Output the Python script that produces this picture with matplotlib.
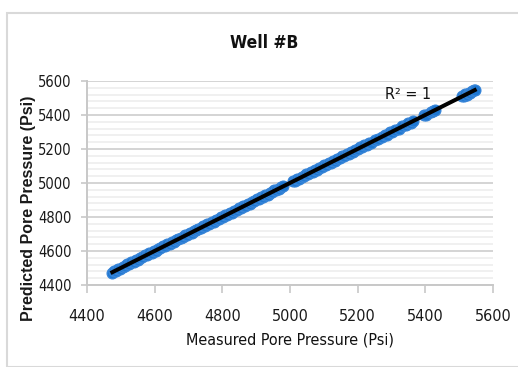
import numpy as np
import matplotlib
matplotlib.use("Agg")
import matplotlib.pyplot as plt
from matplotlib import font_manager
from matplotlib.patches import Rectangle
from matplotlib.ticker import MultipleLocator

# measured vs predicted pore pressure (psi)
measured = [
    4475, 4479, 4486, 4492, 4499, 4505, 4512, 4518, 4525, 4531, 4538, 4545, 4551,
    4558, 4564, 4571, 4578, 4584, 4591, 4597, 4604, 4611, 4617, 4624, 4630, 4637,
    4644, 4650, 4657, 4663, 4670, 4677, 4683, 4690, 4696, 4703, 4710, 4716, 4723,
    4729, 4736, 4743, 4749, 4756, 4762, 4769, 4776, 4782, 4789, 4795, 4802, 4809,
    4815, 4822, 4828, 4835, 4842, 4848, 4855, 4861, 4868, 4875, 4881, 4888, 4894,
    4901, 4908, 4914, 4921, 4927, 4934, 4941, 4947, 4954, 4960, 4967, 4974, 4980,
    5008, 5014, 5021, 5028, 5034, 5041, 5047, 5054, 5061, 5067, 5074, 5081, 5087,
    5094, 5100, 5107, 5114, 5120, 5127, 5134, 5140, 5147, 5153, 5160, 5167, 5173,
    5180, 5187, 5193, 5200, 5207, 5213, 5220, 5227, 5233, 5240, 5252, 5260, 5271,
    5280, 5288, 5296, 5302, 5310, 5321, 5330, 5342, 5350, 5358, 5363,
    5396, 5401, 5418, 5424, 5430,
    5508, 5513, 5518, 5523, 5528, 5533, 5538, 5543, 5546,
]
predicted = [
    4473, 4482, 4484, 4495, 4497, 4508, 4510, 4521, 4523, 4534, 4536, 4547, 4549,
    4561, 4562, 4574, 4576, 4587, 4589, 4600, 4602, 4613, 4615, 4627, 4628, 4640,
    4642, 4653, 4655, 4666, 4668, 4679, 4681, 4693, 4694, 4706, 4708, 4719, 4721,
    4732, 4734, 4745, 4747, 4759, 4760, 4772, 4771, 4785, 4787, 4798, 4800, 4811,
    4813, 4825, 4826, 4838, 4840, 4851, 4853, 4864, 4866, 4877, 4879, 4891, 4892,
    4904, 4906, 4917, 4919, 4930, 4932, 4944, 4945, 4957, 4958, 4964, 4976, 4982,
    5010, 5012, 5024, 5026, 5037, 5039, 5050, 5052, 5063, 5065, 5077, 5079, 5090,
    5092, 5103, 5105, 5116, 5118, 5130, 5132, 5143, 5145, 5156, 5158, 5169, 5171,
    5183, 5185, 5196, 5198, 5209, 5211, 5223, 5225, 5236, 5238, 5255, 5258, 5268,
    5283, 5285, 5300, 5298, 5313, 5318, 5333, 5339, 5353, 5355, 5366,
    5398, 5399, 5420, 5422, 5432,
    5510, 5511, 5521, 5520, 5530, 5531, 5541, 5545, 5549,
]

title = "Well #B"
xlabel = "Measured Pore Pressure (Psi)"
ylabel = "Predicted Pore Pressure (Psi)"
ticks = [4400, 4600, 4800, 5000, 5200, 5400, 5600]


# look for a narrow face (Calibri-like look); fall back to Liberation Sans
def find_narrow(bold):
    for f in font_manager.fontManager.ttflist:
        if f.style != "normal":
            continue
        w = f.weight if isinstance(f.weight, int) else (700 if f.weight == "bold" else 400)
        if (w >= 600) != bold:
            continue
        if "Narrow" in f.name or "Condensed" in f.name or f.stretch in ("condensed", "semi-condensed"):
            return f.fname
    return None


narrow_file = find_narrow(False)
narrow_bold_file = find_narrow(True)


def nfont(size, bold=False):
    fn = narrow_bold_file if bold else narrow_file
    if fn:
        return font_manager.FontProperties(fname=fn, size=size)
    return font_manager.FontProperties(family="Liberation Sans", size=size * 0.88,
                                       weight="bold" if bold else "normal")


fig = plt.figure(figsize=(5.18, 3.67), dpi=100)
fig.patches.append(Rectangle((7 / 518, 0), 1.2, 1 - 13 / 367, transform=fig.transFigure,
                             fill=False, edgecolor="#d9d9d9", linewidth=1.5))

ax = fig.add_axes([87 / 518, 1 - 285 / 367, (493 - 87) / 518, (285 - 81) / 367])

x = np.array(measured, dtype=float)
y = np.array(predicted, dtype=float)
ax.scatter(x, y, s=62, color="#1f78d2", edgecolor="#3a86d8", linewidth=0.8, zorder=3)

# linear trendline
k, b = np.polyfit(x, y, 1)
xs = np.array([x.min(), x.max()])
ax.plot(xs, k * xs + b, color="black", linewidth=2.9, zorder=4)
ax.text(5282, 5522, "R² = 1", fontproperties=nfont(11.5), color="#111111",
        ha="left", va="center", zorder=5)

ax.set_xlim(4400, 5600)
ax.set_ylim(4400, 5600)
ax.set_xticks(ticks)
ax.set_yticks(ticks)
ax.yaxis.set_minor_locator(MultipleLocator(40))
ax.grid(axis="y", which="major", color="#d4d4d4", linewidth=1.4, zorder=0)
ax.grid(axis="y", which="minor", color="#eeeeee", linewidth=1.2, zorder=0)
ax.set_axisbelow(True)

for s in ["top", "right"]:
    ax.spines[s].set_visible(False)
for s in ["left", "bottom"]:
    ax.spines[s].set_color("#c8c8c8")
    ax.spines[s].set_linewidth(1.4)

ax.tick_params(axis="x", which="major", length=6, width=1.2, color="#c8c8c8",
               pad=11, labelcolor="#1a1a1a")
ax.tick_params(axis="y", which="major", length=4, width=1.2, color="#c8c8c8",
               pad=7, labelcolor="#1a1a1a")
ax.tick_params(axis="y", which="minor", length=0)
for lab in ax.get_xticklabels():
    lab.set_fontproperties(nfont(11.5))
for lab in ax.get_yticklabels():
    lab.set_fontproperties(nfont(10.5))

fig.text(264 / 518, 1 - 43 / 367, title, fontproperties=nfont(12.5, bold=True),
         ha="center", va="center", color="#111111")
fig.text(290 / 518, 1 - 340 / 367, xlabel, fontproperties=nfont(11.5),
         ha="center", va="center", color="#111111")
fig.text(29 / 518, 1 - 208 / 367, ylabel, fontsize=11.5, fontweight="bold",
         family=["Liberation Sans", "DejaVu Sans"], rotation=90,
         ha="center", va="center", color="#1a1a1a")

fig.savefig("out.png", dpi=100)
